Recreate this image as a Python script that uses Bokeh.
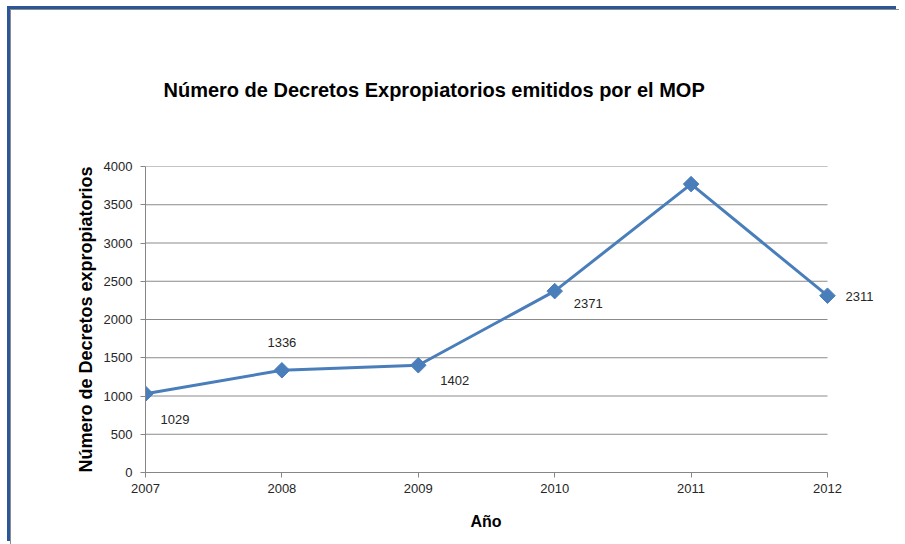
from bokeh.plotting import figure
from bokeh.models import FixedTicker, ColumnDataSource, LabelSet, Title
from bokeh.embed import file_html
from bokeh.resources import INLINE
from bokeh.core.properties import value
import math

# ---- data ----
years = [2007, 2008, 2009, 2010, 2011, 2012]
decretos = [1029, 1336, 1402, 2371, 3770, 2311]
y_ticks = [0, 500, 1000, 1500, 2000, 2500, 3000, 3500, 4000]
title_text = "Número de Decretos Expropiatorios emitidos por el MOP"
x_label = "Año"
y_label = "Número de Decretos expropiatorios"

# ---- label placement (screen px, positive dy = up) ----
label_dx = [15, 0, 22, 19, 0, 18]
label_dy = [-26, 28, -15, -12, 33, -1]
label_align = ["left", "center", "left", "left", "center", "left"]

FONT = "Liberation Sans"
BLUE = "#4A7EBB"
GRID = "#8A8A8A"
PX_PER_YEAR = 682 / 5
EXTRA = 0.44  # room right of 2012 for the last data label

p = figure(
    output_backend="svg", toolbar_location=None,
    frame_width=int(round(PX_PER_YEAR * (5 + EXTRA))), frame_height=306,
    min_border_left=134, min_border_top=156, min_border_right=12, min_border_bottom=66,
    x_range=(years[0], years[-1] + EXTRA), y_range=(y_ticks[0], y_ticks[-1]),
    background_fill_color="white", border_fill_color="white",
)
p.styles = {
    "margin-top": "9px", "margin-left": "10px",
    "border-top": "1px solid #8C8C8C", "border-left": "1px solid #8C8C8C",
    "box-shadow": "-3px -3px 0 0 #2B5797",
}
p.outline_line_color = None

p.title.text = title_text
p.title.align = "left"
p.title.offset = 18
p.title.text_font = FONT
p.title.text_font_size = "20px"
p.title.text_font_style = "bold"
p.title.text_color = "black"
p.title.standoff = 132

# axes
p.xaxis.ticker = FixedTicker(ticks=years)
p.yaxis.ticker = FixedTicker(ticks=y_ticks)
p.xaxis.bounds = (years[0], years[-1])
for ax in (p.xaxis, p.yaxis):
    ax.axis_line_color = "#868686"
    ax.major_tick_line_color = "#868686"
    ax.major_tick_in = 0
    ax.major_tick_out = 5
    ax.minor_tick_line_color = None
    ax.major_label_text_font = FONT
    ax.major_label_text_font_size = "13px"
    ax.major_label_text_color = "#262626"
    ax.axis_label_text_font = FONT
    ax.axis_label_text_font_style = "bold"
    ax.axis_label_text_color = "black"
p.yaxis.axis_label = y_label
p.yaxis.axis_label_text_font_size = "18px"
p.xaxis.major_label_standoff = 6
p.yaxis.major_label_standoff = 8
p.yaxis.axis_label_standoff = 5

# x-axis title, centred under the 2007-2012 span
x_title = Title(text=x_label, align="left", offset=325, standoff=30,
                text_font=FONT, text_font_size="16px", text_font_style="bold",
                text_color="black")
p.add_layout(x_title, "below")

# horizontal gridlines limited to the category span
p.xgrid.grid_line_color = None
p.ygrid.grid_line_color = None
p.segment(x0=[years[0]] * len(y_ticks), x1=[years[-1]] * len(y_ticks),
          y0=y_ticks, y1=y_ticks, line_color=GRID, line_width=1)

src = ColumnDataSource(dict(
    x=years, y=decretos, t=[str(v) for v in decretos],
    dx=label_dx, dy=label_dy, al=label_align,
))

p.line("x", "y", source=src, line_color=BLUE, line_width=3)
p.scatter("x", "y", source=src, marker="square", size=11, angle=math.pi / 4,
          fill_color=BLUE, line_color=BLUE)
labels = LabelSet(x="x", y="y", text="t", source=src, x_offset="dx", y_offset="dy",
                  text_align="al", text_baseline="middle",
                  text_font=value(FONT), text_font_size="13px", text_color="#262626")
p.add_layout(labels)

open("out.html", "w").write(file_html(p, INLINE))
